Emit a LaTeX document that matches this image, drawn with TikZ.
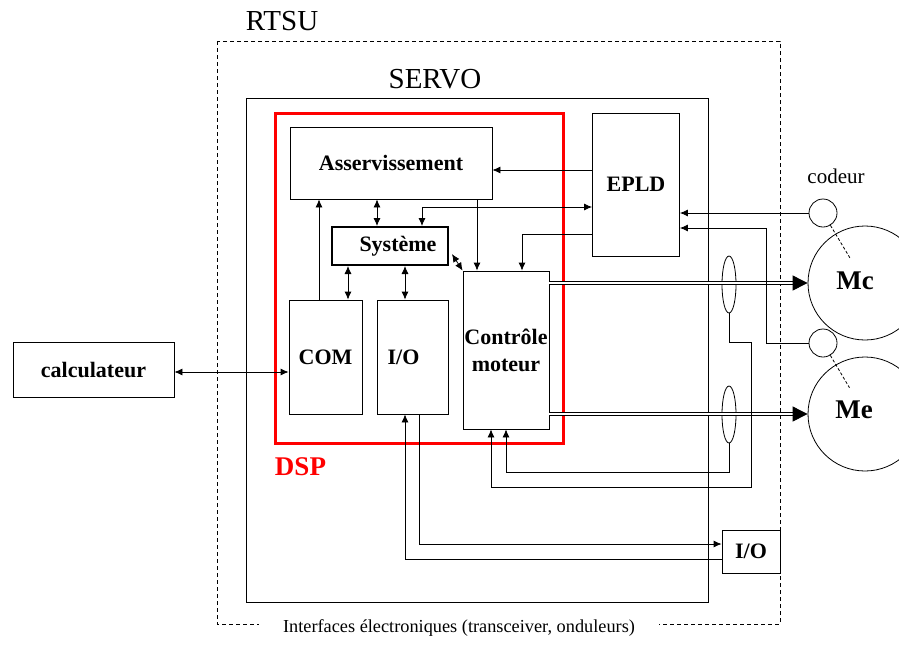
\documentclass[tikz,border=0pt]{standalone}
\usepackage{fontspec}
\setmainfont{Liberation Serif}
\usetikzlibrary{arrows.meta,calc,shapes.geometric}
\newcommand{\fsz}[2][]{\fontsize{#2}{27}\selectfont}

\begin{document}
\begin{tikzpicture}[x=1pt, y=-1pt, >={Latex[length=8pt,width=7pt]}, line width=0.8pt,
    box/.style={draw, inner sep=0pt, align=center, font=\fsz{22}\bfseries},
    enc/.style={draw, circle, inner sep=0pt, minimum size=28pt},
    motor/.style={draw, circle, inner sep=0pt, minimum size=114pt},
    sensor/.style={draw, ellipse, inner sep=0pt, minimum width=14pt, minimum height=57pt},
    power/.style={double=white, double distance=2.5pt, line width=0.9pt, -{Triangle[length=15pt,width=15pt]}}]
    \useasboundingbox (0,0) rectangle (899,646);
    \clip (0,0) rectangle (899,646);

    % RTSU / SERVO / DSP frames
    \draw[dashed, dash pattern=on 4pt off 3pt] (217,41) rectangle (780,624);
    \node[font=\fsz{29}] (rtsulbl) at (282,21) {RTSU};
    \draw (246,98) rectangle (708,602);
    \node[font=\fsz{29}] (servolbl) at (435,79) {SERVO};
    \draw[red, line width=3pt] (275,113) rectangle (563,443);
    \node[font=\fsz{27}\bfseries, text=red] (dsplbl) at (300.5,467) {DSP};
    \node[fill=white, font=\fsz{18.3}, anchor=base, inner xsep=24pt] (iflbl) at (459,632)
        {Interfaces électroniques (transceiver, onduleurs)};

    % blocks
    \node[box, minimum width=161pt, minimum height=55pt] (calc) at (93.5,369.5) {calculateur};
    \node[box, minimum width=202pt, minimum height=72pt] (ass) at (391,163) {Asservissement};
    \node[box, minimum width=87pt, minimum height=143pt] (epld) at (636,184.5) {EPLD};
    \node[box, line width=2pt, minimum width=116pt, minimum height=38pt] (sys) at (390,246) {\hspace*{16pt}Système};
    \node[box, minimum width=73pt, minimum height=114pt] (com) at (325.5,357) {COM};
    \node[box, minimum width=71pt, minimum height=114pt] (io) at (412.5,357) {I/O\hspace*{18pt}};
    \node[box, minimum width=86pt, minimum height=158pt] (ctrl) at (506,350) {Contrôle\\moteur};
    \node[box, minimum width=58pt, minimum height=43pt] (io2) at (751,551.5) {I/O};

    % motors and sensors
    \node[enc] (c1) at (823,213) {};
    \node[enc] (c2) at (823,343) {};
    \node[font=\fsz{21}] (codlbl) at (836,176.5) {codeur};
    \node[motor] (mc) at (865,283) {};
    \node[motor] (me) at (865,414) {};
    \node[font=\fsz{27}\bfseries] (mclbl) at (855,281) {Mc};
    \node[font=\fsz{27}\bfseries] (melbl) at (854,410) {Me};
    \node[sensor] (e1) at (729,284.5) {};
    \node[sensor] (e2) at (729,414.5) {};
    \draw[dashed, dash pattern=on 3pt off 2pt] (c1) -- ($(c1)!0.64!(mc)$);
    \draw[dashed, dash pattern=on 3pt off 2pt] (c2) -- ($(c2)!0.63!(me)$);

    % links inside the DSP
    \draw[<->] (calc.east |- 0,372) -- (com.west |- 0,372);
    \draw[->] (epld.west |- 0,170) -- (ass.east |- 0,170);
    \draw[<->] (sys.north -| 422,0) |- (epld.west |- 0,207);
    \draw[<->] (ass.south -| 377,0) -- (sys.north -| 377,0);
    \draw[->] (ass.south -| 477,0) -- (ctrl.north -| 477,0);
    \draw[->] (epld.west |- 0,234) -| (ctrl.north -| 522,0);
    \draw[->] (com.north -| 319,0) -- (ass.south -| 319,0);
    \draw[<->] (sys.south -| 348,0) -- (com.north -| 348,0);
    \draw[<->] (sys.south -| 405,0) -- (io.north -| 405,0);
    \draw[<->] ($(sys.east)+(3,8)$) -- (ctrl.north west);

    % power lines and feedback
    \draw[power] (ctrl.east |- mc) -- (mc.west);
    \draw[power] (ctrl.east |- me) -- (me.west);
    \draw[->] (e1.south) |- (751,342) |- (491,487) -- (ctrl.south -| 491,0);
    \draw[->] (e2.south) |- (506,472) -- (ctrl.south -| 506,0);
    \draw[->] (c1.west) -- (c1.west -| epld.east);
    \draw[->] (c2.west) -| (766,228) -- (epld.east |- 0,228);

    % external I/O
    \draw[->] (io.south -| 419,0) |- (io2.west |- 0,544);
    \draw[->] (io2.west |- 0,559) -| (io.south -| 405,0);
\end{tikzpicture}
\end{document}
